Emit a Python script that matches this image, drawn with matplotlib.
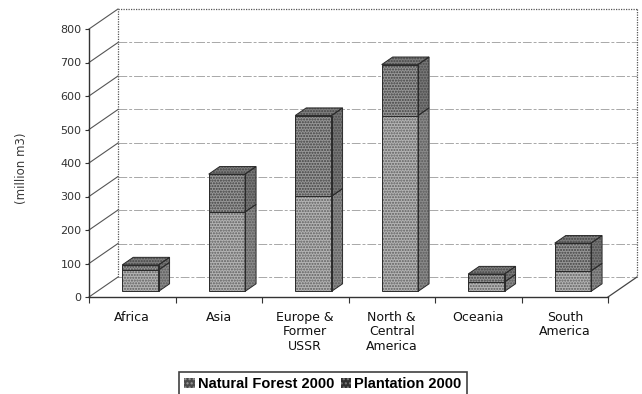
import matplotlib
matplotlib.use("Agg")
import matplotlib.pyplot as plt
from matplotlib.patches import Patch

# ---- data -------------------------------------------------------------
categories = ["Africa", "Asia", "Europe &\nFormer\nUSSR",
              "North &\nCentral\nAmerica", "Oceania", "South\nAmerica"]
natural_forest = [64, 237, 284, 525, 28, 61]     # million m3
plantation = [15, 113, 241, 152, 24, 83]         # million m3
y_ticks = [0, 100, 200, 300, 400, 500, 600, 700, 800]
series_labels = ["Natural Forest 2000", "Plantation 2000"]
y_label = "(million m3)"

# ---- geometry of the oblique "3-D" frame ------------------------------
W, H, DPI = 642, 394, 100
FX0, FX1 = 89, 608          # front plane, left/right (px)
FY0, FYTOP = 297, 29        # front plane, value 0 / value 800 (px from top)
WALL_DX_PX, WALL_DY_PX = 29, 20
n = len(categories)
YMAX = y_ticks[-1]
px_cat = (FX1 - FX0) / n
px_val = (FY0 - FYTOP) / YMAX
DX = WALL_DX_PX / px_cat    # depth offset in category units
DY = WALL_DY_PX / px_val    # depth offset in value units

xlim = (-0.3, 6.38)
ylim = (-15, 865)

fig = plt.figure(figsize=(W / DPI, H / DPI), dpi=DPI)
left_px = FX0 + xlim[0] * px_cat
right_px = FX0 + xlim[1] * px_cat
bottom_px = FY0 - ylim[0] * px_val
top_px = FY0 - ylim[1] * px_val
ax = fig.add_axes([left_px / W, (H - bottom_px) / H,
                   (right_px - left_px) / W, (bottom_px - top_px) / H])
ax.set_xlim(*xlim)
ax.set_ylim(*ylim)


def proj(x, v, d):
    """Oblique projection of a point at depth d (0 = front, 1 = back wall)."""
    return x + d * DX, v + d * DY


# ---- walls ------------------------------------------------------------
grid_kw = dict(color="#a8a8a8", lw=0.7, ls=(0, (9, 2, 3, 2)), zorder=1)
edge_kw = dict(color="#555555", lw=0.9, ls=(0, (1, 1)), zorder=1)
side_kw = dict(color="#555555", lw=0.8, zorder=1)

for v in y_ticks[:-1]:
    xa, ya = proj(0, v, 1)
    xb, yb = proj(n, v, 1)
    ax.plot([xa, xb], [ya, yb], **grid_kw)
# back wall outline
xa, ya = proj(0, 0, 1)
xb, yb = proj(0, YMAX, 1)
ax.plot([xa, xb], [ya, yb], **edge_kw)
xc, yc = proj(n, YMAX, 1)
ax.plot([xb, xc], [yb, yc], **edge_kw)
xd, yd = proj(n, 0, 1)
ax.plot([xc, xd], [yc, yd], **edge_kw)
# left side wall lines
for v in y_ticks:
    xa, ya = proj(0, v, 1)
    ax.plot([0, xa], [v, ya], **side_kw)
# floor right edge
xa, ya = proj(n, 0, 1)
ax.plot([n, xa], [0, ya], color="#444444", lw=0.9, zorder=1)

# ---- bars -------------------------------------------------------------
bar_w = 0.42
d0, db = 0.28, 0.38
base = d0 * DY
xs = [i + 0.5 + d0 * DX for i in range(n)]
outline = dict(edgecolor="#2a2a2a", linewidth=0.7)

styles = {
    "nat_front": dict(facecolor="#b4b4b4", hatch="......", edgecolor="#5e5e5e"),
    "pla_front": dict(facecolor="#979797", hatch="......", edgecolor="#404040"),
    "nat_side": dict(facecolor="#8a8a8a", hatch="......", edgecolor="#5a5a5a"),
    "pla_side": dict(facecolor="#787878", hatch="......", edgecolor="#4a4a4a"),
    "top": dict(facecolor="#7e7e7e", hatch="......", edgecolor="#444444"),
}

bottoms_pl = [base + a for a in natural_forest]
ax.bar(xs, natural_forest, width=bar_w, bottom=base, linewidth=0,
       zorder=3, **styles["nat_front"])
ax.bar(xs, plantation, width=bar_w, bottom=bottoms_pl, linewidth=0,
       zorder=3, **styles["pla_front"])
ax.bar(xs, natural_forest, width=bar_w, bottom=base, fill=False,
       zorder=4, **outline)
ax.bar(xs, plantation, width=bar_w, bottom=bottoms_pl, fill=False,
       zorder=4, **outline)

for x, nat, pla in zip(xs, natural_forest, plantation):
    xl, xr = x - bar_w / 2, x + bar_w / 2
    ex, ey = db * DX, db * DY
    segs = [(base, base + nat, "nat_side"),
            (base + nat, base + nat + pla, "pla_side")]
    for b, t, key in segs:
        px = [xr, xr + ex, xr + ex, xr]
        py = [b, b + ey, t + ey, t]
        ax.fill(px, py, linewidth=0, zorder=3, **styles[key])
        ax.fill(px, py, fill=False, zorder=4, **outline)
    T = base + nat + pla
    px = [xl, xr, xr + ex, xl + ex]
    py = [T, T, T + ey, T + ey]
    ax.fill(px, py, linewidth=0, zorder=3, **styles["top"])
    ax.fill(px, py, fill=False, zorder=4, **outline)

# ---- front axes -------------------------------------------------------
for s in ("top", "right"):
    ax.spines[s].set_visible(False)
ax.spines["left"].set_position(("data", 0))
ax.spines["bottom"].set_position(("data", 0))
ax.spines["left"].set_bounds(0, YMAX)
ax.spines["bottom"].set_bounds(0, n)
for s in ("left", "bottom"):
    ax.spines[s].set_color("#333333")
    ax.spines[s].set_linewidth(1.0)
    ax.spines[s].set_zorder(5)

ax.set_yticks(y_ticks)
ax.set_yticklabels([str(t) for t in y_ticks])
ax.tick_params(axis="y", length=3, width=0.8, pad=2.5, colors="#333333",
               labelsize=8)

ax.set_xticks(range(n + 1))
ax.set_xticklabels([])
ax.set_xticks([i + 0.5 for i in range(n)], minor=True)
ax.set_xticklabels(categories, minor=True, fontsize=9, color="#111111",
                   linespacing=1.15)
ax.tick_params(axis="x", which="major", length=4, width=0.8, color="#333333")
ax.tick_params(axis="x", which="minor", length=0, pad=10)

fig.text(22 / W, 1 - 168 / H, y_label, rotation=90, ha="center",
         va="center", fontsize=8.5, color="#3a3a3a")

# ---- legend -----------------------------------------------------------
handles = [
    Patch(facecolor="#4a4a4a", hatch="....", edgecolor="#9a9a9a", linewidth=0),
    Patch(facecolor="#2e2e2e", hatch="....", edgecolor="#7a7a7a", linewidth=0),
]
leg = fig.legend(handles, series_labels, loc="upper center",
                 bbox_to_anchor=(323 / W, (H - 372) / H), ncol=2,
                 frameon=True, fancybox=False, borderaxespad=0,
                 handlelength=0.7, handleheight=0.7, handletextpad=0.2,
                 columnspacing=0.5, borderpad=0.35,
                 prop=dict(family="Liberation Sans", weight="bold", size=10.5))
leg.get_frame().set_edgecolor("#111111")
leg.get_frame().set_linewidth(1.2)

fig.savefig("out.png", dpi=DPI, facecolor="white")
